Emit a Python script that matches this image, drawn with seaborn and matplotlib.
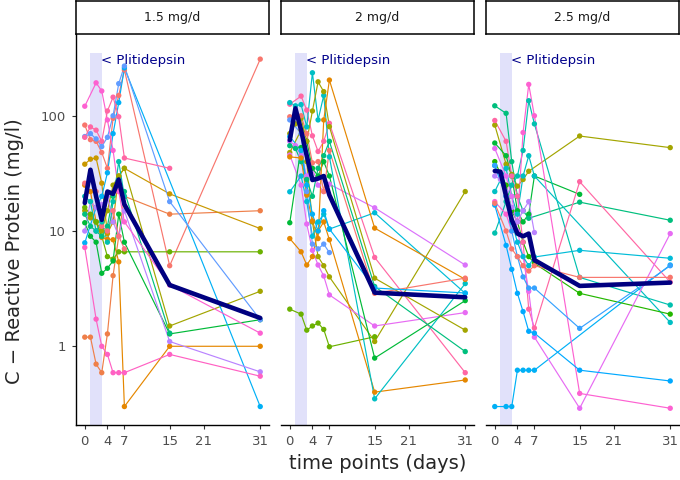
import matplotlib
matplotlib.use('Agg')
import matplotlib.pyplot as plt
from matplotlib.ticker import NullLocator
import pandas as pd
import seaborn as sns

N = None
days = [0, 1, 2, 3, 4, 5, 6, 7, 15, 31]
doses = ['1.5 mg/d', '2 mg/d', '2.5 mg/d']

# CRP (mg/l) per patient, one row per patient, columns = days above
crp_15 = [
    [83, 62, 60, 48, 35, 95, 150, 250, 5.0, 310],
    [25, 22, 12, 8.8, 8.5, 8.4, 5.4, 0.3, 1.0, 1.0],
    [1.2, 1.2, 0.7, 0.59, 1.28, 4.1, 9.0, 20, 14, 15],
    [38, 42, 43, 26, 9.5, 12, 30, 35, 21, 10.5],
    [15, 13, 12, 10, 15, 25, 30, 35, 1.5, 3.0],
    [16, 14, 12, 9, 6.0, 5.7, 6.6, 6.6, 6.6, 6.6],
    [11.8, 9, 8, 4.3, 4.75, 5.5, 14, 8, 1.28, 1.7],
    [14, 11, 10, 9, 11, 20, 25, 22, 1.3, N],
    [7.9, N, 16, 20, 32, 70, 130, 260, N, 0.3],
    [66, 70, 63, 54, 65, 100, 190, 270, 18, 1.7],
    [10, 18, 16, 17, 20, 12, 9, 15, 1.1, 0.6],
    [121, N, 193, 164, 92, 50, 22, 12, 3.4, 1.3],
    [7.2, N, 1.72, 1.0, 0.85, 0.59, 0.59, 0.59, 0.85, 0.55],
    [65, 80, 75, 60, 110, 145, 98, 43, 35, N],
    [26, 28, 22, 11, 10, 15, 9, 7, N, N],
    [20, 18, 10, 12, 8, 18, 40, 20, N, N],
]
crp_20 = [
    [2.1, N, 1.9, 1.38, 1.5, 1.59, 1.4, 0.99, 1.21, N],
    [48, N, 75, 40, 12, 6, 5, 4.0, 1.1, 22],
    [8.6, N, 6.6, 5.07, 6.0, 10, 12, 8.4, 0.40, 0.51],
    [126, N, 148, 112, 67, 49, 60, 86, 5.9, 0.59],
    [45.6, N, 25, 11.5, 6.8, 5.07, 4.07, 2.79, 1.50, 1.96],
    [60, 55, 45, 30, 35, 25, 22, 25.5, 15.9, 5.07],
    [21.9, N, 30, 18, 9.0, 12, 14, 10.4, 14.4, 2.88],
    [130, 122, 125, 80, 236, 92, 150, 44, 0.35, 3.5],
    [11.8, N, 53, 60, 35, 30, 40, 30, 0.79, 2.49],
    [55, 52, 40, 28, 20, 35, 45, 60, 3.3, 0.90],
    [70, 85, 95, 60, 110, 197, 162, 80.5, 3.9, 1.38],
    [44, N, 43, 20.5, 12.2, 8.6, 92, 204, 10.6, 3.81],
    [98, N, 100, 70, 39, 40, 22, 50, 2.88, 3.9],
    [92, N, 70, 22, 7.7, 7.0, 7.7, 6.5, N, N],
    [66, N, 50, 25, 14, 10, 15, 10.4, 3.2, 2.9],
]
crp_25 = [
    [0.3, N, 0.3, 0.3, 0.62, 0.62, 0.62, 0.62, N, 5.07],
    [83, N, 38, 31, 24.5, 28, 33, N, 66.7, 52.9],
    [58, N, 45, 30, 15, 12, 14, 30, 20.8, N],
    [122, N, 105, 40, 20, 15, 12.9, N, 17.8, 12.4],
    [9.6, N, 18, 25, 30, 50, 135, 85, 3.96, 2.28],
    [22, N, 35, 20, 14, 30, 45, 30, N, 1.61],
    [40, N, 25, 15, 12, 8, 6, 5.25, 2.88, 1.90],
    [91, N, 60, 30, 20, 8, 2.1, 1.44, 26.8, 3.6],
    [18, N, 14, 10, 12, 71.5, 187, 100, 0.39, 0.29],
    [52, N, 30, 20, 10, 6, 3, 1.2, 0.29, 9.5],
    [30, 28, 22, 16, 12, 15, 18, 9.7, N, N],
    [37, N, 20, 12, 8, 6, 5, 5.95, 6.8, 5.8],
    [16.8, N, 7.5, 4.65, 2.88, 2.0, 1.35, 1.3, 0.62, 0.5],
    [37, N, 20, 10, 6, 4, 3.2, 3.2, 1.43, 5.0],
    [17.4, N, 10, 7, 6, 5, 4.5, 5, 3.96, 3.96],
]

median_15 = [17.5, 34, 20, 12.5, 22, 21, 28, 17, 3.4, 1.76]
median_20 = [61.5, 116, 75, 45, 27.7, 28.5, 30, 20.5, 2.92, 2.66]
median_25 = [33.2, 32.7, 20, 12.5, 9.5, 9.0, 9.5, 5.6, 3.34, 3.57]

band_days = [1, 3]
band_top = 350
label_day, label_crp = 2.8, 300

# patient colours (hue palette)
cols_15 = ['#F8766D', '#E58700', '#EF7F49', '#C99800', '#A3A500', '#6BB100',
           '#00BA38', '#00BF7D', '#00B0F6', '#619CFF', '#B983FF', '#FD61D1',
           '#FF61C3', '#FF67A4', '#FB727F', '#00C0AF']
cols_20 = ['#6BB100', '#A3A500', '#E58700', '#FF67A4', '#E76BF3', '#DB72FB',
           '#00BCD8', '#00BFC4', '#00BA38', '#00BF7D', '#A3A500', '#E58700',
           '#F8766D', '#619CFF', '#00B0F6']
cols_25 = ['#00B0F6', '#A3A500', '#00BA38', '#00BF7D', '#00C0AF', '#00BFC4',
           '#24B700', '#FF67A4', '#FD61D1', '#E76BF3', '#B983FF', '#00BCD8',
           '#00A9FF', '#35A2FF', '#F8766D']


def long_table(rows):
    recs = []
    for pid, row in enumerate(rows):
        for d, v in zip(days, row):
            if v is not None:
                recs.append({'patient': pid, 'day': d, 'crp': v})
    return pd.DataFrame(recs)


def main():
    sns.set_style('white')
    plt.rcParams['font.family'] = ['DejaVu Sans']
    W, H = 680, 480
    fig = plt.figure(figsize=(6.8, 4.8), dpi=100)
    lefts = [76, 281, 486]
    panels = [(crp_15, median_15, cols_15), (crp_20, median_20, cols_20),
              (crp_25, median_25, cols_25)]
    for i, (rows, med, cols) in enumerate(panels):
        ax = fig.add_axes([lefts[i] / W, 55 / H, 193 / W, 391 / H])
        ax.set_yscale('log')
        ax.fill_between(band_days, 0.01, band_top, color='#E1E1FA', lw=0, zorder=0)
        df = long_table(rows)
        pal = dict(enumerate(cols))
        sns.lineplot(data=df, x='day', y='crp', hue='patient', palette=pal,
                     estimator=None, lw=0.85, legend=False, ax=ax, zorder=2)
        sns.scatterplot(data=df, x='day', y='crp', hue='patient', palette=pal,
                        s=15, linewidth=0, legend=False, ax=ax, zorder=3)
        sns.lineplot(x=days, y=med, color='#000080', lw=3.3, ax=ax, zorder=4)
        ax.text(label_day, label_crp, '< Plitidepsin', color='#00008B',
                fontsize=9.5, va='center', ha='left', zorder=5)
        ax.set_xlim(-1.55, 32.55)
        ax.set_ylim(0.2075, 512)
        ax.set_xticks([0, 4, 7, 15, 21, 31])
        ax.yaxis.set_minor_locator(NullLocator())
        ax.set_xlabel('')
        ax.set_ylabel('')
        for s in ['top', 'right']:
            ax.spines[s].set_visible(False)
        ax.spines['bottom'].set_color('black')
        ax.spines['bottom'].set_linewidth(1.0)
        if i == 0:
            ax.set_yticks([1, 10, 100], labels=['1', '10', '100'])
            ax.spines['left'].set_color('black')
            ax.spines['left'].set_linewidth(1.0)
        else:
            ax.set_yticks([])
            ax.spines['left'].set_visible(False)
        ax.tick_params(axis='both', length=3, width=0.8, color='#333333',
                       labelcolor='#4D4D4D', labelsize=9.5, pad=4.5,
                       left=(i == 0), bottom=True)

        st = fig.add_axes([lefts[i] / W, 446 / H, 193 / W, 32.5 / H])
        st.set_xticks([])
        st.set_yticks([])
        st.set_facecolor('white')
        for s in st.spines.values():
            s.set_color('black')
            s.set_linewidth(1.1)
        st.text(0.5, 0.5, doses[i], ha='center', va='center', fontsize=9,
                color='#1A1A1A', transform=st.transAxes)

    fig.text(377.5 / W, (H - 469) / H, 'time points (days)', ha='center',
             va='baseline', fontsize=14)
    fig.text(15 / W, 229 / H, 'C \u2212 Reactive Protein (mg/l)', rotation=90,
             ha='center', va='center', fontsize=14)
    fig.savefig('out.png', dpi=100)
    print('I created a figure!')


if __name__ == '__main__':
    main()
